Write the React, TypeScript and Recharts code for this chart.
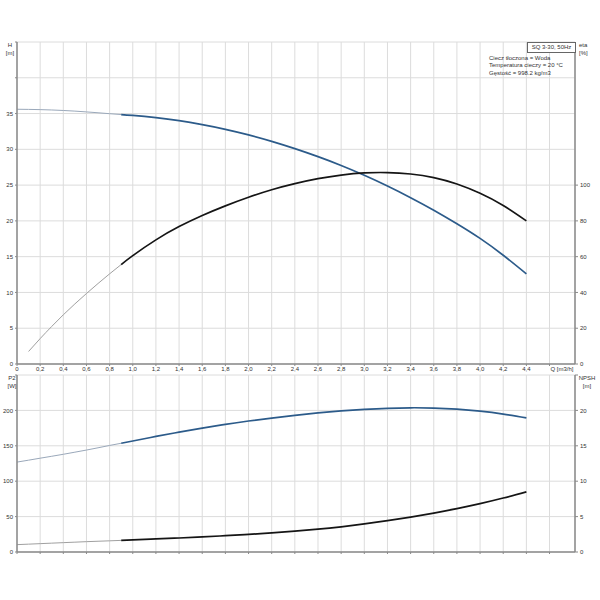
import React from "react";
import { LineChart, Line, XAxis, YAxis, CartesianGrid } from "recharts";

// flow rate Q [m3/h]
const flow = [0, 0.1, 0.2, 0.3, 0.4, 0.5, 0.6, 0.7, 0.8, 0.9, 1.0, 1.2, 1.4, 1.6, 1.8, 2.0, 2.2, 2.4, 2.6, 2.8, 3.0, 3.2, 3.4, 3.6, 3.8, 4.0, 4.2, 4.4];
// head H [m]
const head = [35.6, 35.58, 35.55, 35.5, 35.43, 35.34, 35.23, 35.11, 34.98, 34.86, 34.74, 34.42, 34.0, 33.45, 32.8, 32.02, 31.12, 30.1, 28.98, 27.75, 26.38, 24.88, 23.25, 21.5, 19.6, 17.55, 15.2, 12.6];
// efficiency eta [%]
const eta = [null, 7.0, 14.2, 21.0, 27.5, 33.6, 39.4, 45.0, 50.4, 55.6, 60.6, 69.4, 76.8, 83.0, 88.4, 93.2, 97.4, 100.8, 103.6, 105.6, 106.8, 107.0, 106.2, 104.2, 100.6, 95.4, 88.6, 80];
// shaft power P2 [W]
const power = [127, 129.7, 132.5, 135.2, 138, 141, 144, 147.2, 150.5, 153.6, 156.8, 163.2, 169.3, 175, 180.2, 185, 189.2, 193, 196.4, 199.2, 201.4, 203, 203.7, 203.3, 201.7, 198.9, 194.8, 189.5];
// NPSH [m]
const npsh = [1.04, 1.11, 1.18, 1.25, 1.32, 1.39, 1.46, 1.52, 1.58, 1.64, 1.71, 1.84, 1.98, 2.13, 2.3, 2.49, 2.7, 2.94, 3.22, 3.56, 3.96, 4.42, 4.93, 5.5, 6.13, 6.83, 7.62, 8.5];

const qTicks = [0, 0.2, 0.4, 0.6, 0.8, 1.0, 1.2, 1.4, 1.6, 1.8, 2.0, 2.2, 2.4, 2.6, 2.8, 3.0, 3.2, 3.4, 3.6, 3.8, 4.0, 4.2, 4.4, 4.6];
const qTickLabels = ["0", "0,2", "0,4", "0,6", "0,8", "1,0", "1,2", "1,4", "1,6", "1,8", "2,0", "2,2", "2,4", "2,6", "2,8", "3,0", "3,2", "3,4", "3,6", "3,8", "4,0", "4,2", "4,4", ""];
const hTicks = [0, 5, 10, 15, 20, 25, 30, 35, 40, 45];
const hTickLabels = ["0", "5", "10", "15", "20", "25", "30", "35", "", ""];
const etaTicks = [0, 20, 40, 60, 80, 100];
const p2Ticks = [0, 50, 100, 150, 200, 250];
const p2TickLabels = ["0", "50", "100", "150", "200", ""];
const npshTicks = [0, 5, 10, 15, 20, 25];
const npshTickLabels = ["0", "5", "10", "15", "20", ""];

const infoLines = ["Ciecz tłoczona = Woda", "Temperatura cieczy = 20 °C", "Gęstość = 998.2 kg/m3"];

const SPLIT = 0.9; // below this the curves are drawn thin

const rows = flow.map((q, i) => ({
  q,
  hThin: q <= SPLIT ? head[i] : null,
  hThick: q >= SPLIT ? head[i] : null,
  etaThin: q <= SPLIT ? eta[i] : null,
  etaThick: q >= SPLIT ? eta[i] : null,
  pThin: q <= SPLIT ? power[i] : null,
  pThick: q >= SPLIT ? power[i] : null,
  nThin: q <= SPLIT ? npsh[i] : null,
  nThick: q >= SPLIT ? npsh[i] : null,
}));

const font = "'Liberation Sans', Arial, sans-serif";
const tickStyle = { fontSize: 6, fill: "#333", fontFamily: font };
const axisLine = { stroke: "#8a8a8a", strokeWidth: 1.5 };
const BLUE = "#2c5b8a";
const BLACK = "#151515";

const fmt = (ticks: number[], labels: string[]) => (v: number) => {
  const i = ticks.findIndex((t) => Math.abs(t - v) < 1e-6);
  return i >= 0 ? labels[i] : "";
};

const label = (text: string, left: number, top: number, align: "left" | "center" = "left") => (
  <div
    key={text + left + top}
    style={{
      position: "absolute",
      left: align === "center" ? left - 30 : left,
      width: align === "center" ? 60 : undefined,
      top,
      fontSize: 6,
      lineHeight: "7px",
      fontFamily: font,
      color: "#333",
      textAlign: align,
      whiteSpace: "nowrap",
    }}
  >
    {text}
  </div>
);

export default function App() {
  return (
    <div style={{ position: "absolute", left: 0, top: 0, width: 600, height: 600, background: "#fff" }}>
      <div style={{ position: "absolute", left: 0, top: 0 }}>
        <LineChart width={600} height={378} data={rows} margin={{ top: 42, right: 0, bottom: 2, left: 0 }}>
          <CartesianGrid yAxisId="h" stroke="#dcdcdc" strokeWidth={1} />
          <XAxis
            dataKey="q"
            type="number"
            domain={[0, 4.82]}
            ticks={qTicks}
            tickFormatter={fmt(qTicks, qTickLabels)}
            interval={0}
            height={12}
            tick={tickStyle}
            tickSize={2}
            tickMargin={1}
            axisLine={axisLine}
            tickLine={{ stroke: "#8a8a8a" }}
          />
          <YAxis
            yAxisId="h"
            orientation="left"
            domain={[0, 45]}
            ticks={hTicks}
            tickFormatter={fmt(hTicks, hTickLabels)}
            interval={0}
            width={17}
            tick={tickStyle}
            tickSize={2}
            tickMargin={2}
            axisLine={axisLine}
            tickLine={{ stroke: "#8a8a8a" }}
          />
          <YAxis
            yAxisId="eta"
            orientation="right"
            domain={[0, 180]}
            ticks={etaTicks}
            interval={0}
            width={25}
            tick={{ ...tickStyle, textAnchor: "start" }}
            tickSize={3}
            tickMargin={2}
            axisLine={axisLine}
            tickLine={{ stroke: "#8a8a8a" }}
          />
          <Line yAxisId="h" type="natural" dataKey="hThin" stroke="#9aa8ba" strokeWidth={1} dot={false} activeDot={false} isAnimationActive={false} />
          <Line yAxisId="h" type="natural" dataKey="hThick" stroke={BLUE} strokeWidth={1.7} dot={false} activeDot={false} isAnimationActive={false} />
          <Line yAxisId="eta" type="natural" dataKey="etaThin" stroke="#a0a0a0" strokeWidth={1} dot={false} activeDot={false} isAnimationActive={false} />
          <Line yAxisId="eta" type="natural" dataKey="etaThick" stroke={BLACK} strokeWidth={1.7} dot={false} activeDot={false} isAnimationActive={false} />
        </LineChart>
      </div>

      <div style={{ position: "absolute", left: 0, top: 360 }}>
        <LineChart width={600} height={240} data={rows} margin={{ top: 15, right: 0, bottom: 36, left: 0 }}>
          <CartesianGrid yAxisId="p" stroke="#dcdcdc" strokeWidth={1} />
          <XAxis
            dataKey="q"
            type="number"
            domain={[0, 4.82]}
            ticks={qTicks}
            tickFormatter={() => ""}
            interval={0}
            height={12}
            tick={tickStyle}
            tickSize={2}
            axisLine={axisLine}
            tickLine={{ stroke: "#8a8a8a" }}
          />
          <YAxis
            yAxisId="p"
            orientation="left"
            domain={[0, 250]}
            ticks={p2Ticks}
            tickFormatter={fmt(p2Ticks, p2TickLabels)}
            interval={0}
            width={17}
            tick={tickStyle}
            tickSize={2}
            tickMargin={2}
            axisLine={axisLine}
            tickLine={{ stroke: "#8a8a8a" }}
          />
          <YAxis
            yAxisId="n"
            orientation="right"
            domain={[0, 25]}
            ticks={npshTicks}
            tickFormatter={fmt(npshTicks, npshTickLabels)}
            interval={0}
            width={25}
            tick={{ ...tickStyle, textAnchor: "start" }}
            tickSize={3}
            tickMargin={2}
            axisLine={axisLine}
            tickLine={{ stroke: "#8a8a8a" }}
          />
          <Line yAxisId="p" type="natural" dataKey="pThin" stroke="#9aa8ba" strokeWidth={1} dot={false} activeDot={false} isAnimationActive={false} />
          <Line yAxisId="p" type="natural" dataKey="pThick" stroke={BLUE} strokeWidth={1.7} dot={false} activeDot={false} isAnimationActive={false} />
          <Line yAxisId="n" type="natural" dataKey="nThin" stroke="#a0a0a0" strokeWidth={1} dot={false} activeDot={false} isAnimationActive={false} />
          <Line yAxisId="n" type="natural" dataKey="nThick" stroke={BLACK} strokeWidth={1.7} dot={false} activeDot={false} isAnimationActive={false} />
        </LineChart>
      </div>

      {/* axis titles */}
      {label("H", 10, 42, "center")}
      {label("[m]", 10, 50, "center")}
      {label("eta", 579, 42)}
      {label("[%]", 579, 50)}
      {label("Q [m3/h]", 562, 366, "center")}
      {label("P2", 12, 375, "center")}
      {label("[W]", 12, 383, "center")}
      {label("NPSH", 587, 375, "center")}
      {label("[m]", 587, 383, "center")}

      {/* pump info */}
      <div
        style={{
          position: "absolute",
          left: 527,
          top: 42,
          width: 47,
          height: 9,
          border: "1px solid #666",
          background: "#fff",
          fontSize: 6,
          lineHeight: "9px",
          fontFamily: font,
          color: "#333",
          textAlign: "center",
          whiteSpace: "nowrap",
        }}
      >
        SQ 3-30, 50Hz
      </div>
      {infoLines.map((t, i) => label(t, 489, 55 + i * 7.3))}
    </div>
  );
}
